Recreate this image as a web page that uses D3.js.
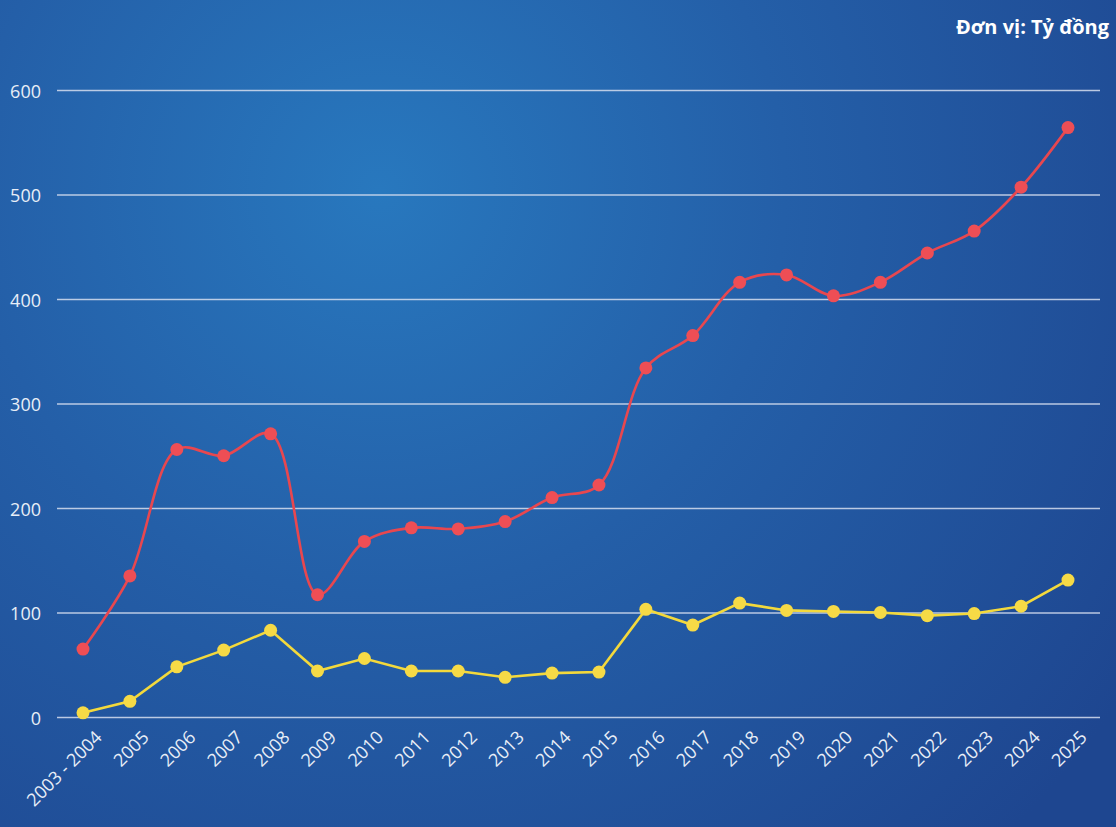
<!DOCTYPE html>
<html>
<head>
<meta charset="utf-8">
<script src="https://cdn.jsdelivr.net/npm/d3@7"></script>
<style>
  body { margin: 0; background: #1f4a92; }
  text { font-family: "Open Sans", sans-serif; }
</style>
</head>
<body>
<script>
// data (ty đồng)
let years = ["2003 - 2004", "2005", "2006", "2007", "2008", "2009", "2010", "2011", "2012",
  "2013", "2014", "2015", "2016", "2017", "2018", "2019", "2020", "2021", "2022", "2023", "2024", "2025"];
let redValues = [65, 135, 256, 250, 271, 117, 168, 181, 180, 187, 210, 222, 334, 365, 416, 423, 403, 416, 444, 465, 507, 564];
let yellowValues = [4, 15, 48, 64, 83, 44, 56, 44, 44, 38, 42, 43, 103, 88, 109, 102, 101, 100, 97, 99, 106, 131];
let yTicks = [0, 100, 200, 300, 400, 500, 600];

let w = 1116;
let h = 827;

let svg = d3.select("body").append("svg")
  .attr("width", w)
  .attr("height", h);

// background
let grad = svg.append("defs").append("radialGradient")
  .attr("id", "bg")
  .attr("cx", 380).attr("cy", 190).attr("r", 900)
  .attr("gradientUnits", "userSpaceOnUse");
grad.append("stop").attr("offset", "0%").attr("stop-color", "#2878be");
grad.append("stop").attr("offset", "45%").attr("stop-color", "#245fa8");
grad.append("stop").attr("offset", "100%").attr("stop-color", "#1e4690");

svg.append("rect")
  .attr("width", w)
  .attr("height", h)
  .attr("fill", "url(#bg)");

let x = d3.scalePoint().domain(years).range([83, 1068]);
let y = d3.scaleLinear().domain([0, 600]).range([717, 90]);

// y axis + grid
let yAxis = svg.append("g")
  .attr("transform", "translate(57,0)")
  .call(d3.axisLeft(y).tickValues(yTicks).tickSize(-1043).tickPadding(16));
yAxis.select(".domain").remove();
yAxis.selectAll(".tick line")
  .attr("stroke", "#d6deef")
  .attr("stroke-width", 1.6)
  .attr("opacity", 0.85);
yAxis.selectAll(".tick text")
  .attr("fill", "#e8eef7")
  .attr("font-size", 18)
  .attr("dy", "0.4em");

// x axis
let xAxis = svg.append("g")
  .attr("transform", "translate(0,728)")
  .call(d3.axisBottom(x).tickSize(0));
xAxis.select(".domain").remove();
xAxis.selectAll(".tick text")
  .attr("fill", "#e8eef7")
  .attr("font-size", 18)
  .attr("text-anchor", "end")
  .attr("transform", "translate(13,4) rotate(-45)")
  .attr("dy", "0.35em");

// lines
let redLine = d3.line()
  .x((d, i) => x(years[i]))
  .y(d => y(d))
  .curve(d3.curveCatmullRom.alpha(0.5));

let yellowLine = d3.line()
  .x((d, i) => x(years[i]))
  .y(d => y(d))
  .curve(d3.curveMonotoneX);

svg.append("path")
  .datum(redValues)
  .attr("d", redLine)
  .attr("fill", "none")
  .attr("stroke", "#e8474f")
  .attr("stroke-width", 2.6);

svg.append("path")
  .datum(yellowValues)
  .attr("d", d3.line().x((d, i) => x(years[i])).y(d => y(d)))
  .attr("fill", "none")
  .attr("stroke", "#f3d93c")
  .attr("stroke-width", 2.6);

svg.append("g").selectAll("circle")
  .data(redValues)
  .join("circle")
    .attr("cx", (d, i) => x(years[i]))
    .attr("cy", d => y(d))
    .attr("r", 6.5)
    .attr("fill", "#ee4e55");

svg.append("g").selectAll("circle")
  .data(yellowValues)
  .join("circle")
    .attr("cx", (d, i) => x(years[i]))
    .attr("cy", d => y(d))
    .attr("r", 6.5)
    .attr("fill", "#f6da46");

// unit
svg.append("text")
  .attr("x", 1109)
  .attr("y", 34)
  .attr("text-anchor", "end")
  .attr("fill", "white")
  .attr("font-weight", "bold")
  .attr("font-size", 20)
  .text("Đơn vị: Tỷ đồng");
</script>
</body>
</html>
